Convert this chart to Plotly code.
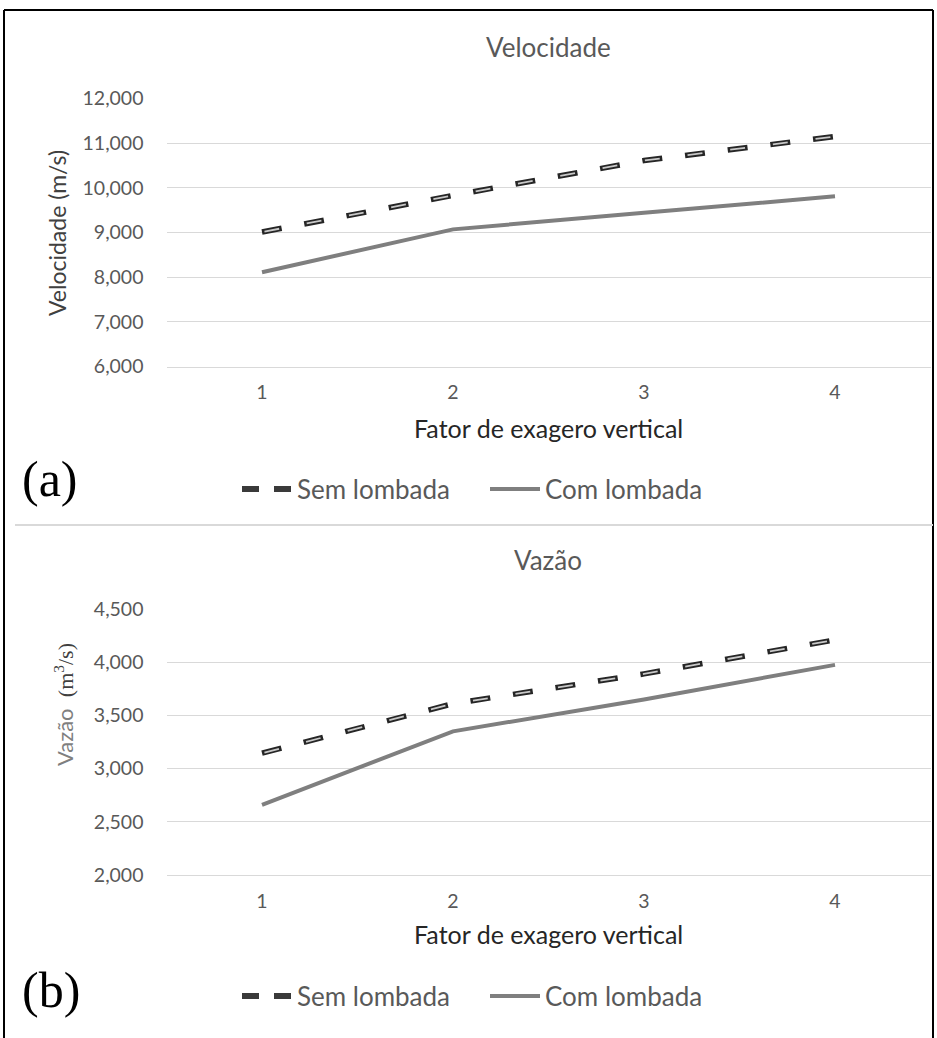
import plotly.graph_objects as go

# ---------------- data ----------------
categories = [1, 2, 3, 4]
series_names = ["Sem lombada", "Com lombada"]
vel_sem = [9010, 9830, 10610, 11150]
vel_com = [8110, 9070, 9440, 9810]
vaz_sem = [3145, 3610, 3890, 4210]
vaz_com = [2660, 3350, 3650, 3975]
vel_ticks = [6000, 7000, 8000, 9000, 10000, 11000, 12000]
vaz_ticks = [2000, 2500, 3000, 3500, 4000, 4500]
x_title = "Fator de exagero vertical"

W, H = 937, 1038
def px(x):
    return x / W
def py(y):
    return 1 - y / H

FONT = "Lato"
TICK_C = "#595959"
GRID_C = "#d9d9d9"
DASH_OUT = "20px,23px"
DASH_IN = "0px,2.5px,15px,25.5px"

fig = go.Figure()

def add_pair(sem, com, xa, ya, leg):
    # dashed series: dark outline + light core, drawn as two strokes
    fig.add_trace(go.Scatter(x=categories, y=sem, mode="lines", name=series_names[0],
                             line=dict(color="#262626", width=5.5, dash=DASH_OUT),
                             xaxis=xa, yaxis=ya, showlegend=False))
    fig.add_trace(go.Scatter(x=categories, y=sem, mode="lines", name=series_names[0],
                             line=dict(color="#c8c8c8", width=1.8, dash=DASH_IN),
                             xaxis=xa, yaxis=ya, showlegend=False, hoverinfo="skip"))
    fig.add_trace(go.Scatter(x=categories, y=com, mode="lines", name=series_names[1],
                             line=dict(color="#7f7f7f", width=4),
                             xaxis=xa, yaxis=ya, showlegend=False))
    # legend entries
    fig.add_trace(go.Scatter(x=[None], y=[None], mode="lines", name=series_names[0],
                             line=dict(color="#3a3a3a", width=6, dash="17px,15px"),
                             xaxis=xa, yaxis=ya, legend=leg))
    fig.add_trace(go.Scatter(x=[None], y=[None], mode="lines", name=series_names[1],
                             line=dict(color="#7f7f7f", width=4),
                             xaxis=xa, yaxis=ya, legend=leg))

add_pair(vel_sem, vel_com, "x", "y", "legend")
add_pair(vaz_sem, vaz_com, "x2", "y2", "legend2")

xdom = [px(166.5), px(930.5)]
xcommon = dict(range=[0.5, 4.5], tickvals=categories, showgrid=False, zeroline=False,
               showline=True, linecolor=GRID_C, linewidth=1.3, ticks="", automargin=False,
               tickfont=dict(family=FONT, size=19.5, color=TICK_C), ticklabelstandoff=8)
ycommon = dict(showgrid=True, gridcolor=GRID_C, gridwidth=1.3, zeroline=False, showline=False,
               ticks="", tickformat=",d", automargin=False,
               tickfont=dict(family=FONT, size=19.5, color=TICK_C), ticklabelstandoff=22)

LEG_FONT = dict(family=FONT, size=26, color=TICK_C)
fig.update_layout(
    width=W, height=H,
    margin=dict(l=0, r=0, t=0, b=0, pad=0, autoexpand=False),
    paper_bgcolor="white", plot_bgcolor="white",
    font=dict(family=FONT, color=TICK_C),
    xaxis=dict(domain=xdom, anchor="y", **xcommon),
    yaxis=dict(domain=[py(366.5), py(98.5)], range=[6000, 12000], tickvals=vel_ticks,
               anchor="x", **ycommon),
    xaxis2=dict(domain=xdom, anchor="y2", **xcommon),
    yaxis2=dict(domain=[py(875), py(609)], range=[2000, 4500], tickvals=vaz_ticks,
                anchor="x2", **ycommon),
    legend=dict(orientation="h", x=px(237), xanchor="left", y=py(489), yanchor="middle",
                font=LEG_FONT, itemwidth=50, entrywidth=183, bgcolor="rgba(0,0,0,0)"),
    legend2=dict(orientation="h", x=px(237), xanchor="left", y=py(996), yanchor="middle",
                 font=LEG_FONT, itemwidth=50, entrywidth=183, bgcolor="rgba(0,0,0,0)"),
    showlegend=True,
)

ann = []
def A(text, x, y, size, color, family=FONT, angle=0, xanchor="center"):
    ann.append(dict(text=text, x=px(x), y=py(y), xref="paper", yref="paper", showarrow=False,
                    xanchor=xanchor, yanchor="middle", textangle=angle,
                    font=dict(family=family, size=size, color=color)))

A("Velocidade", 548, 47, 26, TICK_C)
A("Velocidade (m/s)", 57, 233, 23, "#404040", angle=-90)
A(x_title, 548, 428, 25, "#262626")
A("(a)", 20, 479, 50, "black", family="Liberation Serif", xanchor="left")
A("Vazão", 548, 560, 26, TICK_C)
A("Vazão  <span style='font-family:Liberation Serif;color:#404040'>(m<sup>3</sup>/s)</span>",
  64, 705, 22, "#7f7f7f", angle=-90)
A(x_title, 548, 934, 25, "#262626")
A("(b)", 20, 990, 50, "black", family="Liberation Serif", xanchor="left")
fig.update_layout(annotations=ann)

shapes = []
def L(x0, y0, x1, y1, color, width):
    shapes.append(dict(type="line", xref="paper", yref="paper", x0=px(x0), y0=py(y0),
                       x1=px(x1), y1=py(y1), line=dict(color=color, width=width)))
L(4, 10, 933, 10, "black", 2)
L(4, 10, 4, 1038, "black", 2)
L(933, 10, 933, 1038, "black", 2)
L(15, 525, 933, 525, GRID_C, 2)
fig.update_layout(shapes=shapes)

fig.write_html("out.html")
